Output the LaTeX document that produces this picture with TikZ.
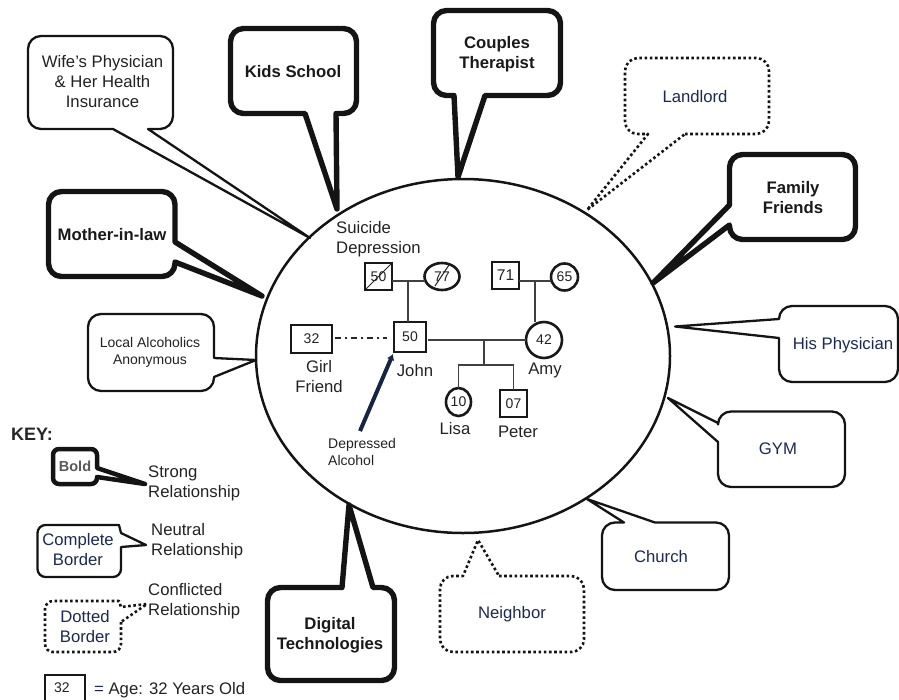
\documentclass[tikz,border=0pt]{standalone}
\usepackage{fontspec}
\setmainfont{Liberation Sans}
\usetikzlibrary{shapes.geometric,arrows.meta}
\definecolor{ink}{HTML}{222222}
\definecolor{navy}{HTML}{1B2A4E}
\tikzset{
  x=1pt,y=-1pt,
  txt/.style={text=ink,inner sep=0pt,align=center,font=\fontsize{16.7}{20}\selectfont},
  ltxt/.style={txt,align=left,anchor=west},
  boldtxt/.style={txt,text=black!90,font=\fontsize{16.7}{20}\selectfont\bfseries},
  navytxt/.style={txt,text=navy},
  smalltxt/.style={txt,font=\fontsize{14}{17}\selectfont},
  thinb/.style={draw=black!92,fill=white,line width=2.3pt,line join=round},
  boldb/.style={draw=black!92,fill=white,line width=5.4pt,line join=round},
  dotb/.style={draw=black!92,fill=white,line width=2.6pt,line join=round,dash pattern=on 2.6pt off 2.6pt},
  sq/.style={draw=black!90,fill=white,rectangle,line width=2.8pt,inner sep=0pt,outer sep=0pt,text=ink,font=\fontsize{14}{15}\selectfont},
  circ/.style={draw=black!90,fill=white,ellipse,line width=2.6pt,inner sep=0pt,outer sep=0pt,text=ink,font=\fontsize{14}{15}\selectfont},
  link/.style={draw=black!75,line width=1.4pt},
}
\begin{document}
\begin{tikzpicture}
\useasboundingbox (0,0) rectangle (899,699);
% central ellipse
\node[ellipse,draw=black!92,line width=2.5pt,minimum width=414pt,minimum height=354pt,inner sep=0pt,outer sep=0pt] (ring) at (463,356) {};
% callouts
\draw[thinb,rounded corners=13pt] (148,129) -- (173,129) -- (173,36) -- (28,36) -- (28,129) [sharp corners] -- (113,129) -- (310,238) -- cycle;
\node[txt] (wife) at (102.5,82) {Wife’s Physician\\\& Her Health\\Insurance};
\draw[boldb,rounded corners=13pt] (336,113.5) -- (356.5,113.5) -- (356.5,28.5) -- (230.5,28.5) -- (230.5,113.5) [sharp corners] -- (305,113.5) -- (337,209) -- cycle;
\node[boldtxt] (kids) at (293,72) {Kids School};
\draw[boldb,rounded corners=13pt] (485,95.5) -- (560.5,95.5) -- (560.5,10.5) -- (433.5,10.5) -- (433.5,95.5) [sharp corners] -- (454,95.5) -- (458,177) -- cycle;
\node[boldtxt] (couples) at (497,54) {Couples\\Therapist};
\draw[dotb,rounded corners=13pt] (685,134) -- (769,134) -- (769,58) -- (625,58) -- (625,134) [sharp corners] -- (648,134) -- (587,210) -- cycle;
\node[navytxt] (landlord) at (695,97) {Landlord};
\draw[boldb,rounded corners=13pt] (729.5,205) -- (729.5,154.5) -- (855.5,154.5) -- (855.5,239.5) -- (729.5,239.5) [sharp corners] -- (729.5,225) -- (653,283) -- cycle;
\node[boldtxt] (family) at (793,197.5) {Family\\Friends};
\draw[thinb,rounded corners=13pt] (779,319) -- (779,306) -- (898,306) -- (898,382) -- (779,382) [sharp corners] -- (779,338) -- (675,326.5) -- cycle;
\node[navytxt] (hisphys) at (843,345) {His Physician};
\draw[thinb,rounded corners=13pt] (718,423) -- (718,411.5) -- (845,411.5) -- (845,487) -- (718,487) [sharp corners] -- (718,442) -- (668,398) -- cycle;
\node[navytxt] (gym) at (778,449) {GYM};
\draw[thinb,rounded corners=13pt] (655,522.5) -- (729,522.5) -- (729,590) -- (602,590) -- (602,522.5) [sharp corners] -- (624,522.5) -- (587,499) -- cycle;
\node[navytxt] (church) at (661,557) {Church};
\draw[dotb,rounded corners=13pt] (499,576) -- (584,576) -- (584,652) -- (440,652) -- (440,576) [sharp corners] -- (463,576) -- (478,540) -- cycle;
\node[navytxt] (neighbor) at (512,614) {Neighbor};
\draw[boldb,rounded corners=13pt] (373,587.5) -- (394.5,587.5) -- (394.5,680.5) -- (267.5,680.5) -- (267.5,587.5) [sharp corners] -- (342,587.5) -- (349,505) -- cycle;
\node[boldtxt] (digital) at (330,635) {Digital\\Technologies};
\draw[boldb,rounded corners=13pt] (175,242) -- (175,191.5) -- (48.5,191.5) -- (48.5,276.5) -- (175,276.5) [sharp corners] -- (175,262) -- (262,296) -- cycle;
\node[boldtxt] (mother) at (112,235) {Mother-in-law};
\draw[thinb,rounded corners=13pt] (214,358) -- (214,314) -- (88,314) -- (88,391) -- (214,391) [sharp corners] -- (214,377) -- (256,360) -- cycle;
\node[smalltxt] (aa) at (150,352.5) {Local Alcoholics\\Anonymous};
% genogram
\node[sq,minimum width=27pt,minimum height=27pt] (gf) at (378.5,276.5) {50};
\node[circ,minimum width=35pt,minimum height=27pt] (gm) at (442,276.5) {77};
\draw[line width=1pt,black!85] ([shift={(1,-1)}]gf.south west) -- ([shift={(-1,1)}]gf.north east);
\draw[line width=1pt,black!85] (435,286) -- (449,265);
\node[sq,minimum width=27pt,minimum height=27pt,font=\fontsize{15.5}{15}\selectfont] (wf) at (505.5,275.5) {71};
\node[circ,minimum width=27pt,minimum height=27pt] (wm) at (564.5,277) {65};
\node[sq,minimum width=32pt,minimum height=30pt] (john) at (410,337) {50};
\node[sq,minimum width=41pt,minimum height=28pt] (girl) at (311.5,339) {32};
\node[circ,minimum width=36pt,minimum height=36pt] (amy) at (544,340) {42};
\node[circ,minimum width=25pt,minimum height=28pt] (lisa) at (458.5,402) {10};
\node[sq,minimum width=27pt,minimum height=27pt] (peter) at (513.5,403.5) {07};
\coordinate (gpar) at (408,281);
\coordinate (wpar) at (535,281);
\coordinate (kid) at (484,340);
\coordinate (kidbar) at (484,365);
\draw[link] ([yshift=-4.5pt]gf.east) -- ([yshift=-4.5pt]gm.west);
\draw[link] (gpar) -- (gpar |- john.north);
\draw[link] ([yshift=-5.5pt]wf.east) -- ([yshift=-4pt]wm.west);
\draw[link] (wpar) -- (wpar |- amy.north);
\draw[link] ([xshift=2pt,yshift=-3pt]john.east) -- (amy.west);
\draw[link] (kid) -- (kidbar);
\draw[link] (lisa.north) -- (lisa.north |- kidbar) -- (peter.north |- kidbar) -- (peter.north);
\draw[black!85,line width=1.1pt,dash pattern=on 6pt off 4pt on 2pt off 4pt] ([xshift=3pt,yshift=1pt]girl.east) -- ([xshift=-7pt,yshift=-1pt]john.west);
\coordinate (dep) at (360,431);
\draw[navy!85!black,line width=4pt,-{Latex[length=6pt,width=8pt]}] (dep) -- ([shift={(-1,2)}]john.south west);
\node[ltxt] (suicide) at (336,239) {Suicide\\Depression};
\node[txt] (girll) at (319,376.5) {Girl\\Friend};
\node[txt] (johnl) at (415,371) {John};
\node[txt] (amyl) at (545,370) {Amy};
\node[txt] (lisal) at (455,429) {Lisa};
\node[txt] (peterl) at (518,432) {Peter};
\node[smalltxt,align=left,anchor=west] (depl) at (328,451.5) {Depressed\\Alcohol};
% key
\node[txt,anchor=west,text=black!85,font=\fontsize{18}{20}\selectfont\bfseries] (key) at (11,434) {KEY:};
\draw[draw=black!92,fill=white,line width=4.5pt,line join=round,rounded corners=6pt] (97,477) -- (97,484) -- (53,484) -- (53,449) -- (97,449) [sharp corners] -- (97,468) -- (145,484) -- cycle;
\node[txt,text=black!65,font=\fontsize{14.5}{15}\selectfont\bfseries] (kbold) at (75,466) {Bold};
\node[ltxt] (kstrong) at (148,483) {Strong\\Relationship};
\draw[thinb,rounded corners=8pt] (121,547) -- (121,577) -- (37.5,577) -- (37.5,525) [sharp corners] -- (119,525) -- (121,533) -- (146,545) -- cycle;
\node[navytxt] (kcomp) at (78,550) {Complete\\Border};
\node[ltxt] (kneut) at (151,541) {Neutral\\Relationship};
\draw[dotb,rounded corners=8pt] (121,622) -- (121,652) -- (45,652) -- (45,601) [sharp corners] -- (119,601) -- (121,607) -- (147,604) -- cycle;
\node[navytxt] (kdot) at (85,627) {Dotted\\Border};
\node[ltxt] (kconf) at (148,601) {Conflicted\\Relationship};
\node[sq,minimum width=40pt,minimum height=36pt] (kage) at (65,693) {};
\node[smalltxt] (k32) at (62,688) {32};
\node[txt,anchor=west] (kagel) at (94,690) {\textcolor{navy}{=} Age: 32 Years Old};
\end{tikzpicture}
\end{document}
